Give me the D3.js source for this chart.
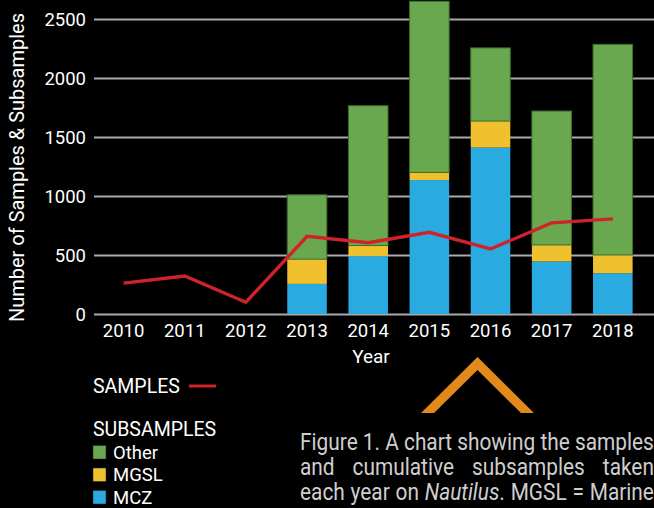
<!DOCTYPE html>
<html><head><meta charset="utf-8">
<script src="https://cdn.jsdelivr.net/npm/d3@7"></script>
<style>
html,body{margin:0;padding:0;background:#000;}
svg{display:block;}
text{font-family:Roboto,"Open Sans",sans-serif;}
</style></head>
<body>
<svg id="c" width="654" height="508"></svg>
<script>
const years = ["2010","2011","2012","2013","2014","2015","2016","2017","2018"];
const mcz   = [0,0,0,255,490,1135,1410,445,345];
const mgsl  = [0,0,0,210,90,65,225,140,155];
const other = [0,0,0,545,1185,1450,620,1135,1785];
const samples = [262,322,100,658,604,692,551,772,806];
const yTicks = [0,500,1000,1500,2000,2500];
const seriesKeys = ["mcz","mgsl","other"];
const seriesNames = {other:"Other", mgsl:"MGSL", mcz:"MCZ"};
const colors = {mcz:"#29abe2", mgsl:"#f0c12e", other:"#6aa84f"};
const lineColor = "#d0222b";
const captionLines = [
  [{t:"Figure 1. A chart showing the samples"}],
  [{t:"and cumulative subsamples taken"}],
  [{t:"each year on "},{t:"Nautilus",i:true},{t:". MGSL = Marine"}]
];

const svg = d3.select("#c");
const table = years.map((y,i)=>({year:y, mcz:mcz[i], mgsl:mgsl[i], other:other[i], samples:samples[i]}));

const x = d3.scaleBand().domain(years).range([93,643.4]).paddingInner(0.353).paddingOuter(0.1765);
const y = d3.scaleLinear().domain([0,2500]).range([314,19]);

// y axis with gridlines
const ya = svg.append("g").attr("transform","translate(94,0)")
  .call(d3.axisLeft(y).tickValues(yTicks).tickFormat(d3.format("d")).tickSize(-560).tickPadding(8));
ya.select(".domain").remove();
ya.selectAll(".tick line").attr("stroke","#aaaaaa").attr("stroke-width",2);
ya.selectAll(".tick text").attr("fill","#ffffff").attr("font-size",18.5).attr("dy","0.36em");

// stacked bars
const stack = d3.stack().keys(seriesKeys)(table);
const layers = svg.append("g").selectAll("g").data(stack).join("g")
  .attr("fill",d=>colors[d.key])
  .attr("stroke",d=>d.key==="other"?"#3f6e2c":"none")
  .attr("stroke-width",1);
layers.selectAll("rect").data(d=>d).join("rect")
  .attr("x",d=>x(d.data.year))
  .attr("width",x.bandwidth())
  .attr("y",d=>y(d[1]))
  .attr("height",d=>Math.max(0,y(d[0])-y(d[1])));

// x axis
const xa = svg.append("g").attr("transform","translate(0,314)")
  .call(d3.axisBottom(x).tickSize(0).tickPadding(10));
xa.select(".domain").remove();
xa.selectAll(".tick text").attr("fill","#ffffff").attr("font-size",18.5);

// samples line
const line = d3.line().x(d=>x(d.year)+x.bandwidth()/2).y(d=>y(d.samples));
svg.append("path").datum(table).attr("d",line)
  .attr("fill","none").attr("stroke",lineColor).attr("stroke-width",3.4)
  .attr("stroke-linejoin","miter");

// axis titles
svg.append("text").attr("x",371).attr("y",363).attr("text-anchor","middle")
  .attr("fill","#fff").attr("font-size",19).text("Year");
svg.append("text").attr("transform","translate(24,167.5) rotate(-90)")
  .attr("text-anchor","middle").attr("fill","#fff").attr("font-size",20)
  .attr("textLength",309).attr("lengthAdjust","spacingAndGlyphs")
  .text("Number of Samples & Subsamples");

// legend
const lg = svg.append("g");
lg.append("text").attr("x",93).attr("y",393).attr("fill","#fff").attr("font-size",19.5).text("SAMPLES");
lg.append("line").attr("x1",189).attr("x2",216).attr("y1",386).attr("y2",386)
  .attr("stroke",lineColor).attr("stroke-width",3);
lg.append("text").attr("x",93).attr("y",436).attr("fill","#fff").attr("font-size",19.5).text("SUBSAMPLES");
const legItems = ["other","mgsl","mcz"];
legItems.forEach((k,i)=>{
  const yy = 445.5 + i*22.5;
  lg.append("rect").attr("x",93).attr("y",yy).attr("width",13).attr("height",13.5)
    .attr("fill",colors[k]).attr("stroke","#222").attr("stroke-width",0.5);
  lg.append("text").attr("x",113).attr("y",yy+13).attr("fill","#fff").attr("font-size",18.5).text(seriesNames[k]);
});

// orange chevron
svg.append("path")
  .attr("d","M421,413 L477.5,357 L534,413 L521,413 L477.5,370 L434,413 Z")
  .attr("fill","#e2891c");

// caption (justified)
const capX = 300, capW = 354, capY = [449.5, 474.5, 499.5], capFS = 24;
const cap = svg.append("g");
const capTexts = captionLines.map((parts,li)=>{
  const t = cap.append("text").attr("x",0).attr("y",0).attr("fill","#cfcfcf").attr("font-size",capFS);
  parts.forEach(p=>{
    const ts = t.append("tspan").text(p.t);
    if(p.i) ts.attr("font-style","italic");
  });
  return t;
});
const nat0 = capTexts[0].node().getComputedTextLength();
const s = capW / nat0;
capTexts.forEach((t,li)=>{
  const nat = t.node().getComputedTextLength();
  const full = captionLines[li].map(p=>p.t).join("");
  const nSpaces = (full.match(/ /g)||[]).length;
  const extra = capW/s - nat;
  if(li>0 && nSpaces>0 && extra>0) t.attr("word-spacing", extra/nSpaces);
  t.attr("transform",`translate(${capX},${capY[li]}) scale(${s},1)`);
});
</script>
</body></html>
